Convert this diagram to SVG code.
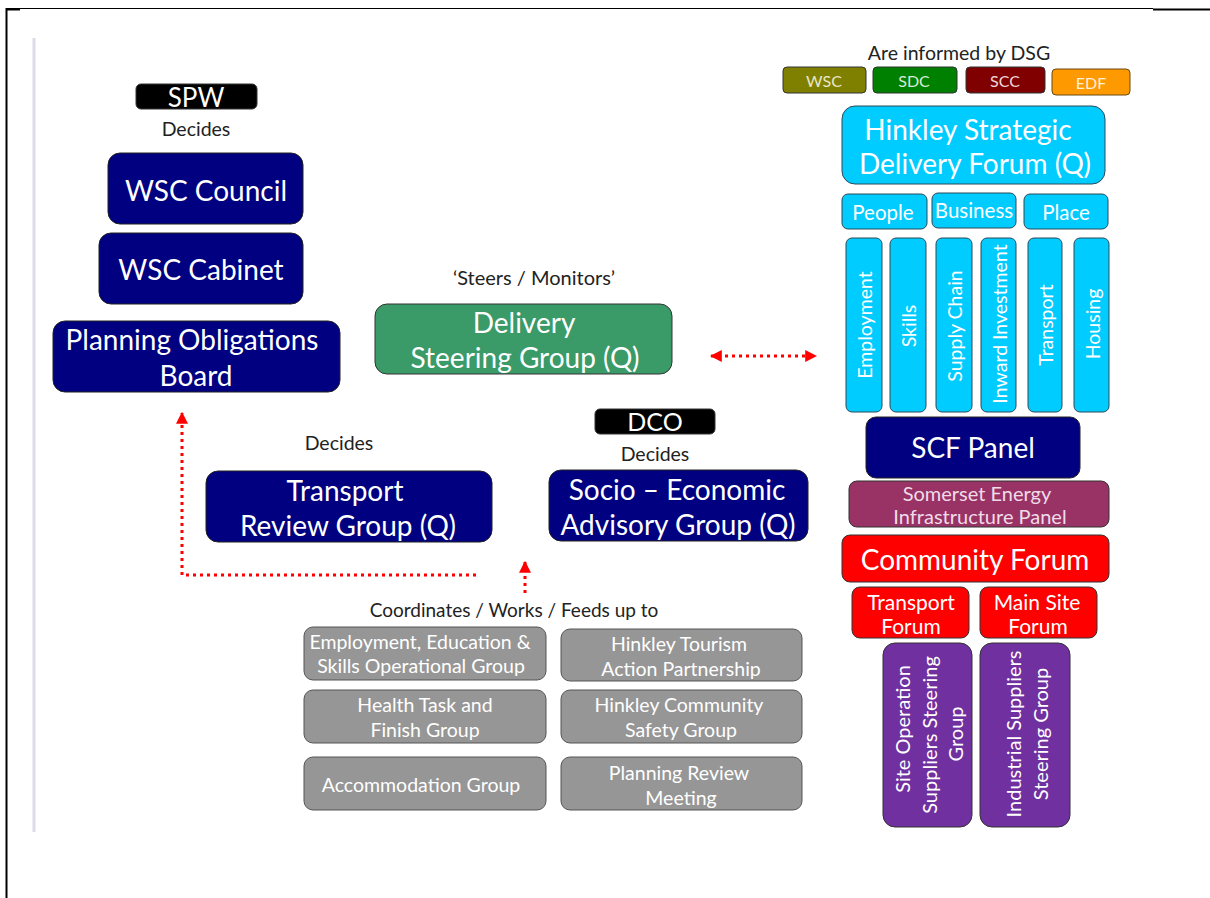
<svg xmlns="http://www.w3.org/2000/svg" width="1210" height="898" viewBox="0 0 1210 898">
<defs>
<marker id="arr" viewBox="0 0 10 10" refX="9" refY="5" markerWidth="4" markerHeight="4" orient="auto-start-reverse" markerUnits="strokeWidth">
<path d="M0,0 L10,5 L0,10 z" fill="#ff0000"/>
</marker>
<style>
text{font-family:Lato,"Open Sans","Liberation Sans",sans-serif;text-anchor:middle;dominant-baseline:central;fill:#ffffff}
.lbl{fill:#222222;font-size:19.5px}
.tag{fill:#000000;stroke:#333;stroke-width:1}
.navy{fill:#000080;stroke:#222;stroke-width:1}
.cyan{fill:#00ccff;stroke:#2a4a5a;stroke-width:1}
.gray{fill:#969696;stroke:#555;stroke-width:1}
.red{fill:#ff0000;stroke:#333;stroke-width:1}
.purple{fill:#7030a0;stroke:#333;stroke-width:1}
.big{font-size:28px}
.gt{font-size:19.5px}
.pp{font-size:20.5px}
.vt{font-size:19.5px}
.pt{font-size:20px}
.xs{font-size:16px}
.conn{stroke:#ff0000;stroke-width:3;stroke-dasharray:3 4;fill:none}
</style>
</defs>
<rect width="1210" height="898" fill="#ffffff"/>
<g id="frame">
<line x1="6" y1="8.5" x2="1153" y2="8.5" stroke="#000" stroke-width="1.2"/>
<line x1="1153" y1="9.5" x2="1210" y2="9.5" stroke="#000" stroke-width="2"/>
<line x1="6" y1="9.5" x2="20" y2="9.5" stroke="#000" stroke-width="2"/>
<line x1="6.5" y1="8" x2="6.5" y2="898" stroke="#000" stroke-width="2"/>
<line x1="34" y1="38" x2="34" y2="832" stroke="#dcdce8" stroke-width="3"/>
</g>

<g id="spw"><rect class="tag" x="136" y="84" width="121" height="25" rx="5"/><text x="196" y="97" style="font-size:26px">SPW</text></g>
<g id="spw-decides"><text class="lbl" x="196" y="128">Decides</text></g>
<g id="wsc-council"><rect class="navy" x="108" y="153" width="195" height="71" rx="12"/><text class="big" x="206" y="190">WSC Council</text></g>
<g id="wsc-cabinet"><rect class="navy" x="99" y="233" width="204" height="71" rx="12"/><text class="big" x="201" y="269">WSC Cabinet</text></g>
<g id="pob"><rect class="navy" x="53" y="321" width="287" height="71" rx="12"/><text class="big" x="192" y="339">Planning Obligations</text><text class="big" x="196" y="375">Board</text></g>

<g id="steers"><text class="lbl" x="534" y="277" style="font-size:20px">‘Steers / Monitors’</text></g>
<g id="dsg"><rect x="375" y="304" width="297" height="70" rx="12" fill="#3a9a68" stroke="#333" stroke-width="1"/><text class="big" x="524" y="322">Delivery</text><text class="big" x="525" y="357">Steering Group (Q)</text></g>

<g id="dco"><rect class="tag" x="595" y="409" width="120" height="25" rx="5"/><text x="655" y="421" style="font-size:25px">DCO</text></g>
<g id="dco-decides"><text class="lbl" x="655" y="453">Decides</text></g>
<g id="seag"><rect class="navy" x="549" y="470" width="259" height="71" rx="12"/><text class="big" x="677" y="489">Socio – Economic</text><text class="big" x="678" y="524">Advisory Group (Q)</text></g>

<g id="trg-decides"><text class="lbl" x="339" y="442">Decides</text></g>
<g id="trg"><rect class="navy" x="206" y="471" width="286" height="71" rx="12"/><text class="big" x="345" y="490">Transport</text><text class="big" x="348" y="525">Review Group (Q)</text></g>

<g id="coord"><text class="lbl" x="514" y="609" style="font-size:19px">Coordinates / Works / Feeds up to</text></g>
<g id="eesog"><rect class="gray" x="304" y="627" width="242" height="53" rx="9"/><text class="gt" x="420" y="641">Employment, Education &amp;</text><text class="gt" x="421" y="665">Skills Operational Group</text></g>
<g id="htap"><rect class="gray" x="561" y="629" width="241" height="52" rx="9"/><text class="gt" x="679" y="643">Hinkley Tourism</text><text class="gt" x="681" y="668">Action Partnership</text></g>
<g id="htfg"><rect class="gray" x="304" y="690" width="242" height="53" rx="9"/><text class="gt" x="425" y="704">Health Task and</text><text class="gt" x="425" y="729">Finish Group</text></g>
<g id="hcsg"><rect class="gray" x="561" y="690" width="241" height="53" rx="9"/><text class="gt" x="679" y="704">Hinkley Community</text><text class="gt" x="681" y="729">Safety Group</text></g>
<g id="ag"><rect class="gray" x="304" y="757" width="242" height="53" rx="9"/><text class="gt" x="421" y="784">Accommodation Group</text></g>
<g id="prm"><rect class="gray" x="561" y="757" width="241" height="53" rx="9"/><text class="gt" x="679" y="772">Planning Review</text><text class="gt" x="681" y="797">Meeting</text></g>

<g id="informed"><text class="lbl" x="959" y="52">Are informed by DSG</text></g>
<g id="t-wsc"><rect x="783" y="67" width="83" height="26" rx="4" fill="#808000" stroke="#333" stroke-width="1"/><text class="xs" x="824" y="80" style="fill:#e8e8c8">WSC</text></g>
<g id="t-sdc"><rect x="873" y="67" width="84" height="26" rx="4" fill="#008000" stroke="#333" stroke-width="1"/><text class="xs" x="914" y="80" style="fill:#d8ecd8">SDC</text></g>
<g id="t-scc"><rect x="966" y="67" width="79" height="26" rx="4" fill="#800000" stroke="#333" stroke-width="1"/><text class="xs" x="1005" y="80" style="fill:#f0d8d8">SCC</text></g>
<g id="t-edf"><rect x="1052" y="69" width="78" height="26" rx="4" fill="#ff9900" stroke="#6a4a10" stroke-width="1"/><text class="xs" x="1091" y="82" style="fill:#fff0d8">EDF</text></g>

<g id="hsdf"><rect class="cyan" x="842" y="106" width="263" height="78" rx="13"/><text class="big" x="968" y="129">Hinkley Strategic</text><text class="big" x="975" y="163">Delivery Forum (Q)</text></g>
<g id="people"><rect class="cyan" x="842" y="194" width="85" height="35" rx="6"/><text class="pp" x="883" y="212">People</text></g>
<g id="business"><rect class="cyan" x="932" y="193" width="84" height="35" rx="6"/><text class="pp" x="974" y="210">Business</text></g>
<g id="place"><rect class="cyan" x="1024" y="194" width="84" height="35" rx="6"/><text class="pp" x="1066" y="212">Place</text></g>

<g id="employment"><rect class="cyan" x="846" y="238" width="36" height="174" rx="6"/><text class="vt" transform="translate(864,325) rotate(-90)">Employment</text></g>
<g id="skills"><rect class="cyan" x="890" y="238" width="36" height="174" rx="6"/><text class="vt" transform="translate(908,326) rotate(-90)">Skills</text></g>
<g id="supply"><rect class="cyan" x="936" y="238" width="36" height="174" rx="6"/><text class="vt" transform="translate(954,326) rotate(-90)">Supply Chain</text></g>
<g id="inward"><rect class="cyan" x="981" y="238" width="35" height="174" rx="6"/><text class="vt" transform="translate(999,324) rotate(-90)">Inward Investment</text></g>
<g id="transport-v"><rect class="cyan" x="1028" y="238" width="34" height="174" rx="6"/><text class="vt" transform="translate(1045,325) rotate(-90)">Transport</text></g>
<g id="housing"><rect class="cyan" x="1074" y="238" width="35" height="174" rx="6"/><text class="vt" transform="translate(1092,324) rotate(-90)">Housing</text></g>

<g id="scf"><rect class="navy" x="866" y="417" width="214" height="61" rx="10"/><text class="big" x="973" y="447">SCF Panel</text></g>
<g id="seip"><rect x="849" y="481" width="260" height="46" rx="8" fill="#993366" stroke="#333" stroke-width="1"/><text class="pt" x="977" y="493" style="fill:#f0dce8">Somerset Energy</text><text class="pt" x="980" y="516" style="fill:#f0dce8">Infrastructure Panel</text></g>
<g id="cf"><rect class="red" x="842" y="535" width="267" height="47" rx="8"/><text class="big" x="975" y="559">Community Forum</text></g>
<g id="tf"><rect class="red" x="852" y="587" width="117" height="51" rx="8"/><text x="911" y="601" style="font-size:21px">Transport</text><text x="911" y="625" style="font-size:21px">Forum</text></g>
<g id="msf"><rect class="red" x="980" y="587" width="117" height="51" rx="8"/><text x="1037" y="601" style="font-size:21px">Main Site</text><text x="1038" y="625" style="font-size:21px">Forum</text></g>
<g id="sossg"><rect class="purple" x="883" y="643" width="89" height="184" rx="12"/><text class="pt" transform="translate(902,729) rotate(-90)">Site Operation</text><text class="pt" transform="translate(929,735) rotate(-90)">Suppliers Steering</text><text class="pt" transform="translate(955,734) rotate(-90)">Group</text></g>
<g id="issg"><rect class="purple" x="980" y="643" width="90" height="184" rx="12"/><text class="pt" transform="translate(1013,734) rotate(-90)">Industrial Suppliers</text><text class="pt" transform="translate(1040,734) rotate(-90)">Steering Group</text></g>

<g id="connectors">
<path class="conn" d="M476,575 L182,575 L182,413" marker-end="url(#arr)"/>
<path class="conn" d="M525,593 L525,562" marker-end="url(#arr)"/>
<path class="conn" d="M711,356 L816,356" marker-start="url(#arr)" marker-end="url(#arr)"/>
</g>
</svg>
